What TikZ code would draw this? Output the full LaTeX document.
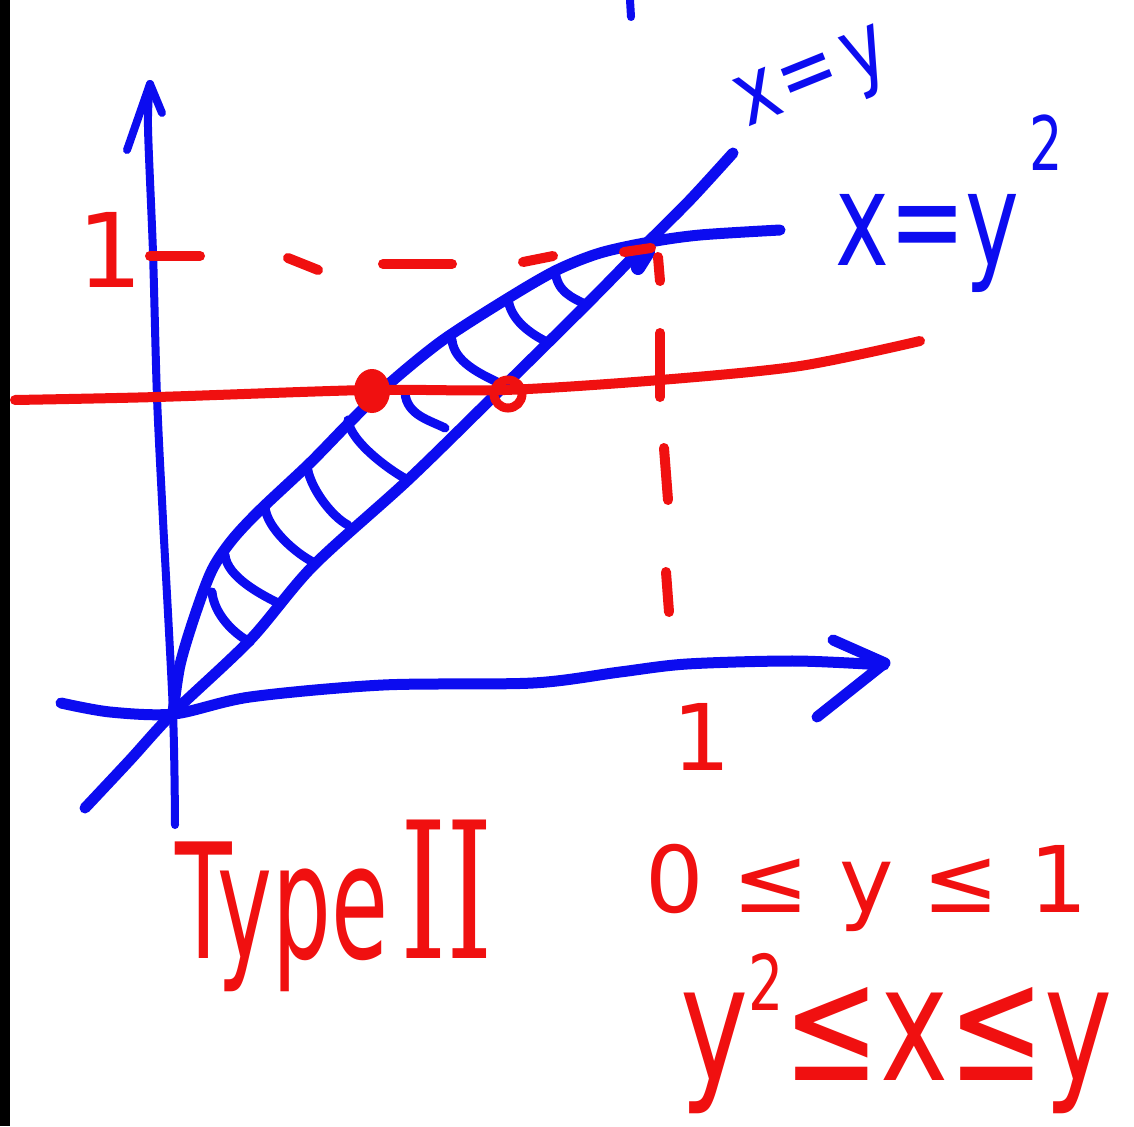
\documentclass[tikz,border=0pt]{standalone}
\usepackage{fontspec}
\usepackage{graphicx}
\newfontfamily\hand{DejaVu Sans}
\newfontfamily\handserif{DejaVu Serif}
\definecolor{hb}{RGB}{12,12,240}
\definecolor{hr}{RGB}{240,16,16}
\newcommand{\hfs}[1]{\fontsize{#1}{#1}\selectfont}
\tikzset{
  bstroke/.style={draw=hb, line width=11pt, line cap=round, line join=round},
  rstroke/.style={draw=hr, line width=10pt, line cap=round, line join=round},
  hatchline/.style={draw=hb, line width=9pt, line cap=round},
  rdash/.style={draw=hr, line width=10pt, line cap=round},
  bluetext/.style={text=hb, inner sep=0pt, font=\hand},
  redtext/.style={text=hr, inner sep=0pt, font=\hand},
}
\begin{document}
\begin{tikzpicture}[x=1pt,y=-1pt]
\useasboundingbox (0,0) rectangle (1134,1126);
\fill[white] (0,0) rectangle (1134,1126);
\fill[black] (0,0) rectangle (10,1126);

% small stroke at the top
\draw[bstroke, line width=8pt] (630,0) -- (631,17);

% y axis
\draw[bstroke, line width=8pt] plot[smooth] coordinates {(175,825) (173,713) (163,520) (157,397) (153,253) (148,127) (150,84)};
\draw[bstroke, line width=8pt] (127,150) -- (150,84) -- (162,113);

% x axis
\draw[bstroke] plot[smooth] coordinates {(61,703) (110,712) (174,714) (250,697) (383,685) (533,683) (620,672) (687,664) (795,661) (884,665)};
\draw[bstroke] (833,640) -- (885,663) -- (817,717);

% x = y
\draw[bstroke] plot[smooth] coordinates {(85,808) (130,760) (173,713) (250,640) (313,566) (408,480) (497,393) (587,304) (643,247) (690,200) (733,153)};

% x = y^2
\draw[bstroke] plot[smooth] coordinates {(173,713) (180,665) (195,615) (212,570) (232,540) (260,510) (310,463) (350,422) (390,383) (443,340) (510,297) (557,270) (600,253) (650,242) (700,235) (780,230)};

% hatching
\foreach \ax/\ay/\bx/\by in {212/592/250/642, 225/555/278/603, 265/507/313/562, 307/465/348/525, 348/420/408/480, 405/393/445/428, 452/340/497/382, 508/298/547/342, 555/270/587/305}
  \draw[hatchline] (\ax,\ay) .. controls +(2,22) and +(-16,-8) .. (\bx,\by);

\draw[bstroke, line width=14pt] (638,268) -- (648,252);

% red horizontal line
\draw[rstroke] plot[smooth] coordinates {(15,400) (157,397) (367,390) (505,390) (660,380) (800,366) (920,341)};
\fill[hr] (372,391) ellipse [x radius=18, y radius=22];
\draw[hr, line width=9pt] (508,394) circle (14);

% dashed y = 1
\draw[rdash] (150,256) -- (200,256);
\draw[rdash] (288,258) -- (318,270);
\draw[rdash] (383,264) -- (452,264);
\draw[rdash] (523,262) -- (553,256);
\draw[rdash] (624,252) -- (651,248);
% dashed x = 1
\draw[rdash] (658,257) -- (660,281);
\draw[rdash] (660,333) -- (660,397);
\draw[rdash] (664,448) -- (668,500);
\draw[rdash] (666,572) -- (669,612);

% labels
\node[bluetext, anchor=center, rotate=22] (lblxy) at (815,84) {\scalebox{0.8}[1]{\hfs{90}x\hspace{4pt}=\hspace{12pt}y}};
\node[bluetext, anchor=base west] (lblxyy) at (835,265) {\scalebox{0.7}[1]{\hfs{130}x=y\hspace{15pt}\raisebox{95pt}{\hfs{75}2}}};
\node[redtext, anchor=base] (oney) at (110,287) {\hfs{103}1};
\node[redtext, anchor=base] (onex) at (702,770) {\hfs{92}1};
\node[redtext, anchor=base west] (typeII) at (175,958) {\scalebox{0.58}[1]{\hfs{160}Type}\hspace{12pt}\scalebox{0.62}[1]{\handserif\hfs{190}II}};
\node[redtext, anchor=base west] (condy) at (645,912) {\hfs{92}0 ≤ y ≤ 1};
\node[redtext, anchor=base west] (condx) at (680,1080) {\scalebox{0.72}[1]{\hfs{160}y\raisebox{70pt}{\hfs{77}2}≤x≤y}};
\end{tikzpicture}
\end{document}
